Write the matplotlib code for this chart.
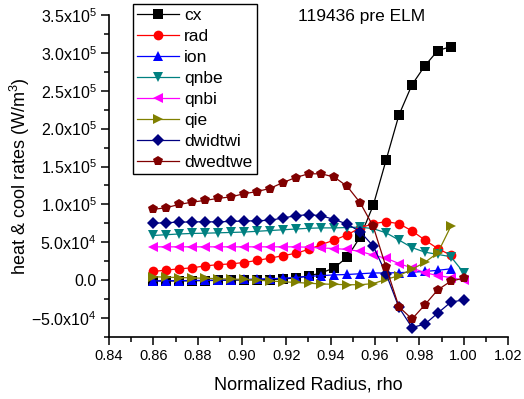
import matplotlib
matplotlib.use("Agg")
import matplotlib.pyplot as plt
import matplotlib.ticker as mticker
import numpy as np

plt.rcParams["font.family"] = ["Liberation Sans", "DejaVu Sans"]
plt.rcParams["mathtext.fontset"] = "custom"
plt.rcParams["mathtext.rm"] = "Liberation Sans"

# normalized radius grid
rho = [0.8600, 0.8658, 0.8717, 0.8775, 0.8833, 0.8892, 0.8950, 0.9008, 0.9067,
       0.9125, 0.9183, 0.9242, 0.9300, 0.9358, 0.9417, 0.9475, 0.9533, 0.9592,
       0.9650, 0.9708, 0.9767, 0.9825, 0.9883, 0.9942, 1.0000]

# rates in units of 1e5 W/m^3
cx = [-0.01, -0.01, -0.01, -0.008, -0.005, -0.003, 0.0, 0.003, 0.006, 0.008,
      0.015, 0.03, 0.057, 0.095, 0.165, 0.305, 0.57, 0.987, 1.585, 2.18,
      2.58, 2.83, 3.03, 3.083]
rad = [0.115, 0.133, 0.15, 0.163, 0.188, 0.205, 0.215, 0.233, 0.26, 0.29,
       0.322, 0.355, 0.405, 0.47, 0.53, 0.6, 0.69, 0.746, 0.772, 0.746,
       0.65, 0.53, 0.417, 0.33]
ion = [-0.01, -0.008, -0.006, -0.004, -0.002, 0.0, 0.005, 0.01, 0.015, 0.02,
       0.025, 0.035, 0.05, 0.06, 0.07, 0.075, 0.085, 0.095, 0.095, 0.10,
       0.105, 0.115, 0.13, 0.15]
qnbe = [0.59, 0.60, 0.61, 0.617, 0.62, 0.625, 0.63, 0.635, 0.645, 0.655,
        0.665, 0.675, 0.685, 0.69, 0.69, 0.695, 0.70, 0.68, 0.625, 0.53,
        0.43, 0.37, 0.34, 0.31, 0.10]
qnbi = [0.44, 0.44, 0.44, 0.44, 0.44, 0.44, 0.44, 0.44, 0.44, 0.44,
        0.44, 0.44, 0.435, 0.425, 0.418, 0.405, 0.38, 0.33, 0.29, 0.22,
        0.16, 0.10, 0.06, 0.035, 0.0]
qie = [0.045, 0.04, 0.035, 0.03, 0.025, 0.02, 0.015, 0.01, 0.0, -0.01,
       -0.02, -0.03, -0.04, -0.05, -0.055, -0.06, -0.06, -0.045, 0.01, 0.06,
       0.145, 0.235, 0.36, 0.71]
dwidtwi = [0.75, 0.76, 0.765, 0.77, 0.77, 0.77, 0.775, 0.78, 0.785, 0.79,
           0.82, 0.85, 0.865, 0.85, 0.80, 0.74, 0.64, 0.45, 0.085, -0.36,
           -0.625, -0.58, -0.435, -0.29, -0.26]
dwedtwe = [0.934, 0.957, 1.0, 1.03, 1.053, 1.079, 1.10, 1.14, 1.17, 1.21,
           1.286, 1.355, 1.404, 1.404, 1.36, 1.237, 1.022, 0.71, 0.171, -0.351,
           -0.513, -0.325, -0.128, -0.013, 0.026]

series_names = ["cx", "rad", "ion", "qnbe", "qnbi", "qie", "dwidtwi", "dwedtwe"]
series_values = [cx, rad, ion, qnbe, qnbi, qie, dwidtwi, dwedtwe]

ytick_values = [-5e4, 0, 5e4, 1e5, 1.5e5, 2e5, 2.5e5, 3e5, 3.5e5]
ytick_labels = [r"$\mathregular{-5.0x10^{4}}$", "0.0",
                r"$\mathregular{5.0x10^{4}}$", r"$\mathregular{1.0x10^{5}}$",
                r"$\mathregular{1.5x10^{5}}$", r"$\mathregular{2.0x10^{5}}$",
                r"$\mathregular{2.5x10^{5}}$", r"$\mathregular{3.0x10^{5}}$",
                r"$\mathregular{3.5x10^{5}}$"]
xtick_values = [0.84, 0.86, 0.88, 0.90, 0.92, 0.94, 0.96, 0.98, 1.00, 1.02]

_STYLES = {
    "cx": ("#000000", "s"),
    "rad": ("#ff0000", "o"),
    "ion": ("#0000ff", "^"),
    "qnbe": ("#008080", "v"),
    "qnbi": ("#ff00ff", "<"),
    "qie": ("#808000", ">"),
    "dwidtwi": ("#000080", "D"),
    "dwedtwe": ("#800000", "p"),
}

fig = plt.figure(figsize=(5.24, 3.99), dpi=100)
ax = fig.add_axes([109 / 524, 1 - 337 / 399, 399 / 524, 322 / 399])

for name, vals in zip(series_names, series_values):
    color, marker = _STYLES[name]
    y = np.asarray(vals) * 1e5
    ms = 6.5 if marker == "D" else 7
    ax.plot(rho[:len(y)], y, color=color, marker=marker, markersize=ms,
            linewidth=0.9, markeredgewidth=0, label=name)

ax.set_xlim(0.84, 1.02)
ax.set_ylim(-7.5e4, 3.5e5)
ax.set_xticks(xtick_values)
ax.set_xticklabels([f"{v:.2f}" for v in xtick_values])
ax.xaxis.set_minor_locator(mticker.MultipleLocator(0.01))
ax.set_yticks(ytick_values)
ax.set_yticklabels(ytick_labels)
ax.yaxis.set_minor_locator(mticker.MultipleLocator(2.5e4))

ax.spines["top"].set_visible(False)
ax.spines["right"].set_visible(False)
for side in ("left", "bottom"):
    ax.spines[side].set_linewidth(1.2)
ax.tick_params(which="major", direction="out", length=6, width=1.1,
               labelsize=10.5, pad=3)
ax.tick_params(axis="y", which="major", labelsize=11.5)
ax.tick_params(which="minor", direction="out", length=3.5, width=1.1)

ax.set_xlabel("Normalized Radius, rho", fontsize=13, labelpad=9)
ax.set_ylabel(r"heat & cool rates (W/m$\mathregular{^3}$)", fontsize=13)
ax.yaxis.set_label_coords((32 - 109) / 399, 0.5)

fig.text(362 / 524, 1 - 16 / 399, "119436 pre ELM", fontsize=12.5,
         ha="center", va="center")

leg = ax.legend(loc="upper left", bbox_to_anchor=(133 / 524, 1 - 4 / 399),
                bbox_transform=fig.transFigure, borderaxespad=0,
                fontsize=12.5, numpoints=1, handlelength=2.4,
                handletextpad=0.3, labelspacing=0.33, borderpad=0.25,
                fancybox=False, framealpha=1, edgecolor="black")
leg.get_frame().set_linewidth(1.0)

fig.savefig("out.png", dpi=100)
